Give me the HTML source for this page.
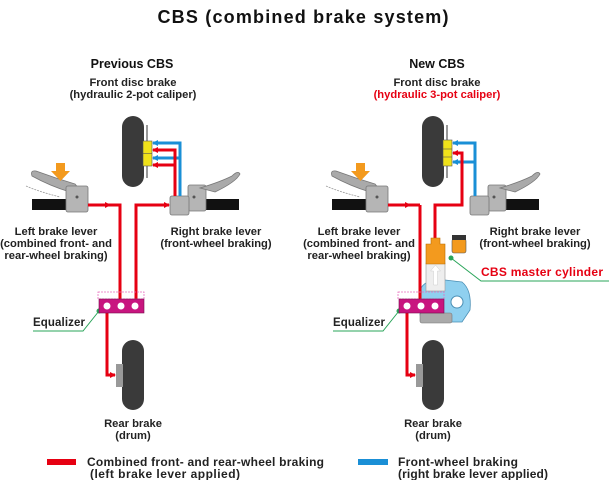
<!DOCTYPE html>
<html><head><meta charset="utf-8"><style>
html,body{margin:0;padding:0;background:#fff;}
svg{display:block;}
text{font-family:"Liberation Sans",Arial,sans-serif;fill:#111;}
.l{font-size:11.2px;font-weight:bold;fill:#222;}
.h{font-size:12.5px;font-weight:bold;}
</style></head><body>
<svg width="609" height="480" viewBox="0 0 609 480" xmlns="http://www.w3.org/2000/svg">
<defs>
<marker id="ar" markerWidth="6" markerHeight="6" refX="5" refY="3" orient="auto" markerUnits="userSpaceOnUse"><path d="M0,0 L6,3 L0,6 z" fill="#e60012"/></marker>
<marker id="ab" markerWidth="6" markerHeight="6" refX="5" refY="3" orient="auto" markerUnits="userSpaceOnUse"><path d="M0,0 L6,3 L0,6 z" fill="#1a8fd6"/></marker>
<g id="base">
  <rect x="122" y="116" width="22" height="71" rx="11" fill="#3a3a3a"/>
  <rect x="146" y="125" width="2" height="53" fill="#999"/>
  <path d="M32,176 Q30,170 36,171 Q55,178 75,184 L80,190 L70,192 Q50,186 32,176z" fill="#aaa" stroke="#777" stroke-width="0.8"/>
  <path d="M26,186 Q40,192 60,197" fill="none" stroke="#999" stroke-width="0.8" stroke-dasharray="2,1"/>
  <rect x="32" y="199" width="36" height="11" fill="#111"/>
  <rect x="66" y="186" width="22" height="26" rx="2" fill="#b5b5b5" stroke="#777" stroke-width="0.8"/>
  <circle cx="77" cy="197" r="1.5" fill="#555"/>
  <path d="M56,163 h9 v8 h5 l-9.5,10 l-9.5,-10 h5z" fill="#f39a1e"/>
  <rect x="205" y="199" width="34" height="11" fill="#111"/>
  <rect x="188" y="185" width="18" height="26" rx="2" fill="#b5b5b5" stroke="#777" stroke-width="0.8"/>
  <path d="M200,188 Q220,182 232,176 Q238,170 240,174 Q236,182 215,192 z" fill="#aaa" stroke="#777" stroke-width="0.8"/>
  <rect x="170" y="196" width="19" height="19" rx="2" fill="#b5b5b5" stroke="#777" stroke-width="0.8"/>
  <circle cx="194" cy="197" r="1.5" fill="#555"/>
  <rect x="122" y="340" width="22" height="70" rx="11" fill="#3a3a3a"/>
  <rect x="116" y="364" width="7" height="23" fill="#999"/>
  <path d="M107,312 V375 H115" fill="none" stroke="#e60012" stroke-width="3" marker-end="url(#ar)"/>
  <text class="l" x="33" y="326" textLength="52" style="font-size:11.5px">Equalizer</text>
  <path d="M33,331 H83 L99,311" fill="none" stroke="#2aa55a" stroke-width="1"/>
  <circle cx="99" cy="311" r="2.5" fill="#2aa55a"/>
</g>
</defs>

<text x="303" y="23" text-anchor="middle" textLength="291" style="font-size:18px;font-weight:bold">CBS (combined brake system)</text>

<!-- LEFT PANEL -->
<text class="h" x="132" y="68" text-anchor="middle">Previous CBS</text>
<text class="l" x="133" y="86" text-anchor="middle">Front disc brake</text>
<text class="l" x="133" y="98" text-anchor="middle">(hydraulic 2-pot caliper)</text>
<use href="#base"/>
<path d="M180,196 V143 H153" fill="none" stroke="#1a8fd6" stroke-width="3" marker-end="url(#ab)"/>
<path d="M180,158 H153" fill="none" stroke="#1a8fd6" stroke-width="3" marker-end="url(#ab)"/>
<path d="M175,196 V150 H153" fill="none" stroke="#e60012" stroke-width="3" marker-end="url(#ar)"/>
<path d="M175,165 H153" fill="none" stroke="#e60012" stroke-width="3" marker-end="url(#ar)"/>
<rect x="143" y="141" width="9" height="25" fill="#f0e21a" stroke="#555" stroke-width="0.6"/>
<line x1="143" y1="153.5" x2="152" y2="153.5" stroke="#555" stroke-width="0.6"/>
<path d="M88,205 H120 V300" fill="none" stroke="#e60012" stroke-width="3"/>
<path d="M104,205 H110" stroke="none" marker-end="url(#ar)"/>
<path d="M136,300 V205 H169" fill="none" stroke="#e60012" stroke-width="3" marker-end="url(#ar)"/>
<rect x="98" y="292" width="46" height="7" fill="none" stroke="#e86fbf" stroke-width="0.8" stroke-dasharray="2,1"/>
<rect x="99" y="299" width="45" height="14" fill="#c8157f" stroke="#7a0b4d" stroke-width="0.6"/>
<circle cx="107" cy="306" r="3.5" fill="#fff"/><circle cx="121" cy="306" r="3.5" fill="#fff"/><circle cx="135" cy="306" r="3.5" fill="#fff"/>
<text class="l" x="56" y="235" text-anchor="middle">Left brake lever</text>
<text class="l" x="56" y="247" text-anchor="middle">(combined front- and</text>
<text class="l" x="56" y="259" text-anchor="middle">rear-wheel braking)</text>
<text class="l" x="216" y="235" text-anchor="middle">Right brake lever</text>
<text class="l" x="216" y="247" text-anchor="middle">(front-wheel braking)</text>
<text class="l" x="133" y="427" text-anchor="middle">Rear brake</text>
<text class="l" x="133" y="439" text-anchor="middle">(drum)</text>

<!-- RIGHT PANEL -->
<text class="h" x="437" y="68" text-anchor="middle">New CBS</text>
<text class="l" x="437" y="86" text-anchor="middle">Front disc brake</text>
<text class="l" x="437" y="98" text-anchor="middle" style="fill:#e60012">(hydraulic 3-pot caliper)</text>
<use href="#base" transform="translate(300,0)"/>
<path d="M475,196 V143 H453" fill="none" stroke="#1a8fd6" stroke-width="3" marker-end="url(#ab)"/>
<path d="M475,162 H453" fill="none" stroke="#1a8fd6" stroke-width="3" marker-end="url(#ab)"/>
<path d="M435,240 V205 H462 V153 H453" fill="none" stroke="#e60012" stroke-width="3" marker-end="url(#ar)"/>
<rect x="443" y="140" width="9" height="26" fill="#f0e21a" stroke="#555" stroke-width="0.6"/>
<line x1="443" y1="149" x2="452" y2="149" stroke="#555" stroke-width="0.6"/>
<line x1="443" y1="157" x2="452" y2="157" stroke="#555" stroke-width="0.6"/>
<path d="M420,290 Q425,278 445,280 L462,282 Q472,290 470,310 L462,322 L430,322 L420,315z" fill="#8fd0ef" stroke="#4a8fb5" stroke-width="0.8"/>
<circle cx="457" cy="302" r="6" fill="#fff" stroke="#4a8fb5" stroke-width="1"/>
<rect x="420" y="313" width="32" height="10" rx="2" fill="#aaa" stroke="#777" stroke-width="0.6"/>
<rect x="426" y="263" width="19" height="28" fill="#eee" stroke="#999" stroke-width="0.6"/>
<path d="M435.5,265 l5,6 h-3 v14 h-4 v-14 h-3z" fill="#fff" stroke="#ccc" stroke-width="0.5"/>
<path d="M431,238 h9 v6 h5 v20 h-19 v-20 h5z" fill="#f39a1e" stroke="#b86a00" stroke-width="0.6"/>
<rect x="452" y="239" width="14" height="14" rx="2" fill="#f39a1e" stroke="#555" stroke-width="0.6"/>
<rect x="452" y="235" width="14" height="5" fill="#333"/>
<path d="M420,205 V300" fill="none" stroke="#e60012" stroke-width="3"/>
<path d="M388,205 H420" fill="none" stroke="#e60012" stroke-width="3"/>
<path d="M404,205 H410" stroke="none" marker-end="url(#ar)"/>
<rect x="398" y="292" width="46" height="7" fill="none" stroke="#e86fbf" stroke-width="0.8" stroke-dasharray="2,1"/>
<rect x="399" y="299" width="45" height="14" fill="#c8157f" stroke="#7a0b4d" stroke-width="0.6"/>
<circle cx="407" cy="306" r="3.5" fill="#fff"/><circle cx="421" cy="306" r="3.5" fill="#fff"/><circle cx="435" cy="306" r="3.5" fill="#fff"/>
<path d="M451,258 L481,281 H609" fill="none" stroke="#2aa55a" stroke-width="1"/>
<circle cx="451" cy="258" r="2.5" fill="#2aa55a"/>
<text x="481" y="276" textLength="122" style="font-size:12px;font-weight:bold;fill:#e60012">CBS master cylinder</text>
<text class="l" x="359" y="235" text-anchor="middle">Left brake lever</text>
<text class="l" x="359" y="247" text-anchor="middle">(combined front- and</text>
<text class="l" x="359" y="259" text-anchor="middle">rear-wheel braking)</text>
<text class="l" x="535" y="235" text-anchor="middle">Right brake lever</text>
<text class="l" x="535" y="247" text-anchor="middle">(front-wheel braking)</text>
<text class="l" x="433" y="427" text-anchor="middle">Rear brake</text>
<text class="l" x="433" y="439" text-anchor="middle">(drum)</text>

<!-- legend -->
<rect x="47" y="459" width="29" height="6" fill="#e60012"/>
<text class="l" x="87" y="466" textLength="237" style="font-size:12px">Combined front- and rear-wheel braking</text>
<text class="l" x="90" y="478" textLength="150" style="font-size:12px">(left brake lever applied)</text>
<rect x="358" y="459" width="30" height="6" fill="#1a8fd6"/>
<text class="l" x="398" y="466" textLength="120" style="font-size:12px">Front-wheel braking</text>
<text class="l" x="398" y="478" textLength="150" style="font-size:12px">(right brake lever applied)</text>
</svg>
</body></html>
